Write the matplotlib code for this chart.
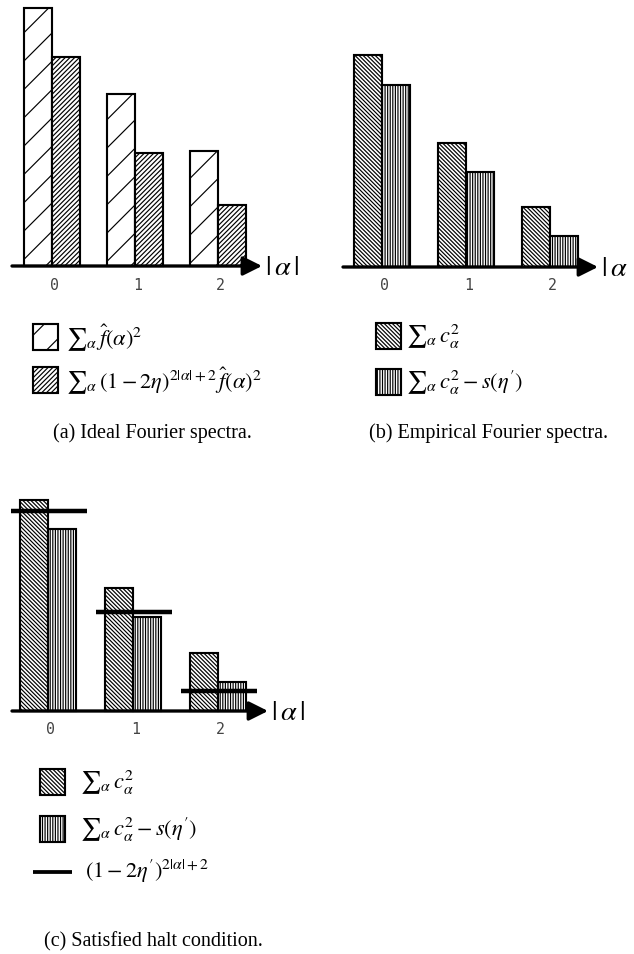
import matplotlib
matplotlib.use('Agg')
import matplotlib.pyplot as plt
from matplotlib.patches import Rectangle
import numpy as np

plt.rcParams['mathtext.fontset'] = 'stix'
plt.rcParams['hatch.linewidth'] = 0.5
plt.rcParams['hatch.color'] = 'black'

DPI = 170
W, H = 634, 955

# data (arbitrary units)
groups = [0, 1, 2]
tick_labels = ['0', '1', '2']
ideal_a = [2.58, 1.72, 1.15]
noisy_a = [2.09, 1.13, 0.61]
emp_b = [2.12, 1.24, 0.60]
emp_minus_b = [1.82, 0.95, 0.31]
emp_c = [2.11, 1.23, 0.58]
emp_minus_c = [1.82, 0.94, 0.29]
halt_c = [2.00, 0.99, 0.20]

SPARSE = '//'
DENSE_FWD = '/' * 12
DENSE_BACK = '\\' * 14
VERT = '|' * 11

fig = plt.figure(figsize=(W / DPI, H / DPI), dpi=DPI)


def panel(box, c0, unit, base):
    # box in figure pixels (left, top, right, bottom)
    l, t, r, b = box
    ax = fig.add_axes([l / W, 1 - b / H, (r - l) / W, (b - t) / H])
    ax.set_xlim((l - c0) / unit, (r - c0) / unit)
    ax.set_ylim((base - b) / 100, (base - t) / 100)
    ax.axis('off')
    return ax, unit


def draw_bars(ax, unit, first, second, h1, h2, x0_px, tip_px, c0, label):
    w = 0.335
    x = np.array(groups)
    ax.bar(x - w / 2, first, w, facecolor='white', edgecolor='black',
           linewidth=0.9, hatch=h1, zorder=2)
    ax.bar(x + w / 2, second, w, facecolor='white', edgecolor='black',
           linewidth=0.9, hatch=h2, zorder=2)
    xa = (x0_px - c0) / unit
    xb = (tip_px - c0) / unit
    ax.annotate('', xy=(xb, 0), xytext=(xa, 0),
                arrowprops=dict(arrowstyle='-|>', lw=1.4, color='black',
                                mutation_scale=17, shrinkA=0, shrinkB=0),
                zorder=4)
    for g, lab in zip(groups, tick_labels):
        ax.text(g + 0.03, -0.18, lab, ha='center', va='center',
                family='DejaVu Sans Mono', fontsize=6.3, color='#444444')
    ax.text(xb + 0.04, 0, label, ha='left', va='center', fontsize=12)


# (a)
ax_a, u = panel((0, 0, 317, 300), 52, 83, 267)
draw_bars(ax_a, u, ideal_a, noisy_a, SPARSE, DENSE_FWD, 12, 262, 52,
          r'$|\,\alpha\,|$')

# (b)
ax_b, u = panel((330, 0, 634, 300), 382, 84, 268)
draw_bars(ax_b, u, emp_b, emp_minus_b, DENSE_BACK, VERT, 343, 598, 382,
          r'$|\,\alpha$')

# (c)
ax_c, u = panel((0, 480, 317, 750), 48, 85, 712)
draw_bars(ax_c, u, emp_c, emp_minus_c, DENSE_BACK, VERT, 12, 268, 48,
          r'$|\,\alpha\,|$')
for g, v in zip(groups, halt_c):
    ax_c.plot([g - 0.43, g + 0.46], [v, v], color='black', lw=1.9,
              solid_capstyle='butt', zorder=5)

# overlay for legends and captions, in pixel coords
ov = fig.add_axes([0, 0, 1, 1])
ov.set_xlim(0, W)
ov.set_ylim(H, 0)
ov.axis('off')
ov.patch.set_alpha(0)


def swatch(x, yc, hatch):
    ov.add_patch(Rectangle((x, yc - 13), 25, 26, facecolor='white',
                           edgecolor='black', linewidth=0.9, hatch=hatch))


def label(x, yc, s):
    ov.text(x, yc, s, ha='left', va='center', fontsize=9.5)


swatch(33, 338, SPARSE)
label(66, 338, r'${\sum}_{\alpha}\,\hat{f}(\alpha)^{2}$')
swatch(33, 381, DENSE_FWD)
label(66, 381, r'${\sum}_{\alpha}\,(1-2\eta)^{2|\alpha|+2}\,\hat{f}(\alpha)^{2}$')

swatch(376, 337, DENSE_BACK)
label(406, 337, r'${\sum}_{\alpha}\,c_{\alpha}^{2}$')
swatch(376, 383, VERT)
label(406, 383, r"${\sum}_{\alpha}\,c_{\alpha}^{2}-s(\eta')$")

swatch(40, 783, DENSE_BACK)
label(80, 783, r'${\sum}_{\alpha}\,c_{\alpha}^{2}$')
swatch(40, 830, VERT)
label(80, 830, r"${\sum}_{\alpha}\,c_{\alpha}^{2}-s(\eta')$")
ov.plot([33, 72], [873, 873], color='black', lw=1.6, solid_capstyle='butt')
label(85, 871, r"$(1-2\eta')^{2|\alpha|+2}$")

cap = dict(ha='center', va='center', family='Liberation Serif', fontsize=8.5)
ov.text(152, 433, '(a) Ideal Fourier spectra.', **cap)
ov.text(489, 433, '(b) Empirical Fourier spectra.', **cap)
ov.text(153, 942, '(c) Satisfied halt condition.', **cap)

fig.savefig('out.png', dpi=DPI)
